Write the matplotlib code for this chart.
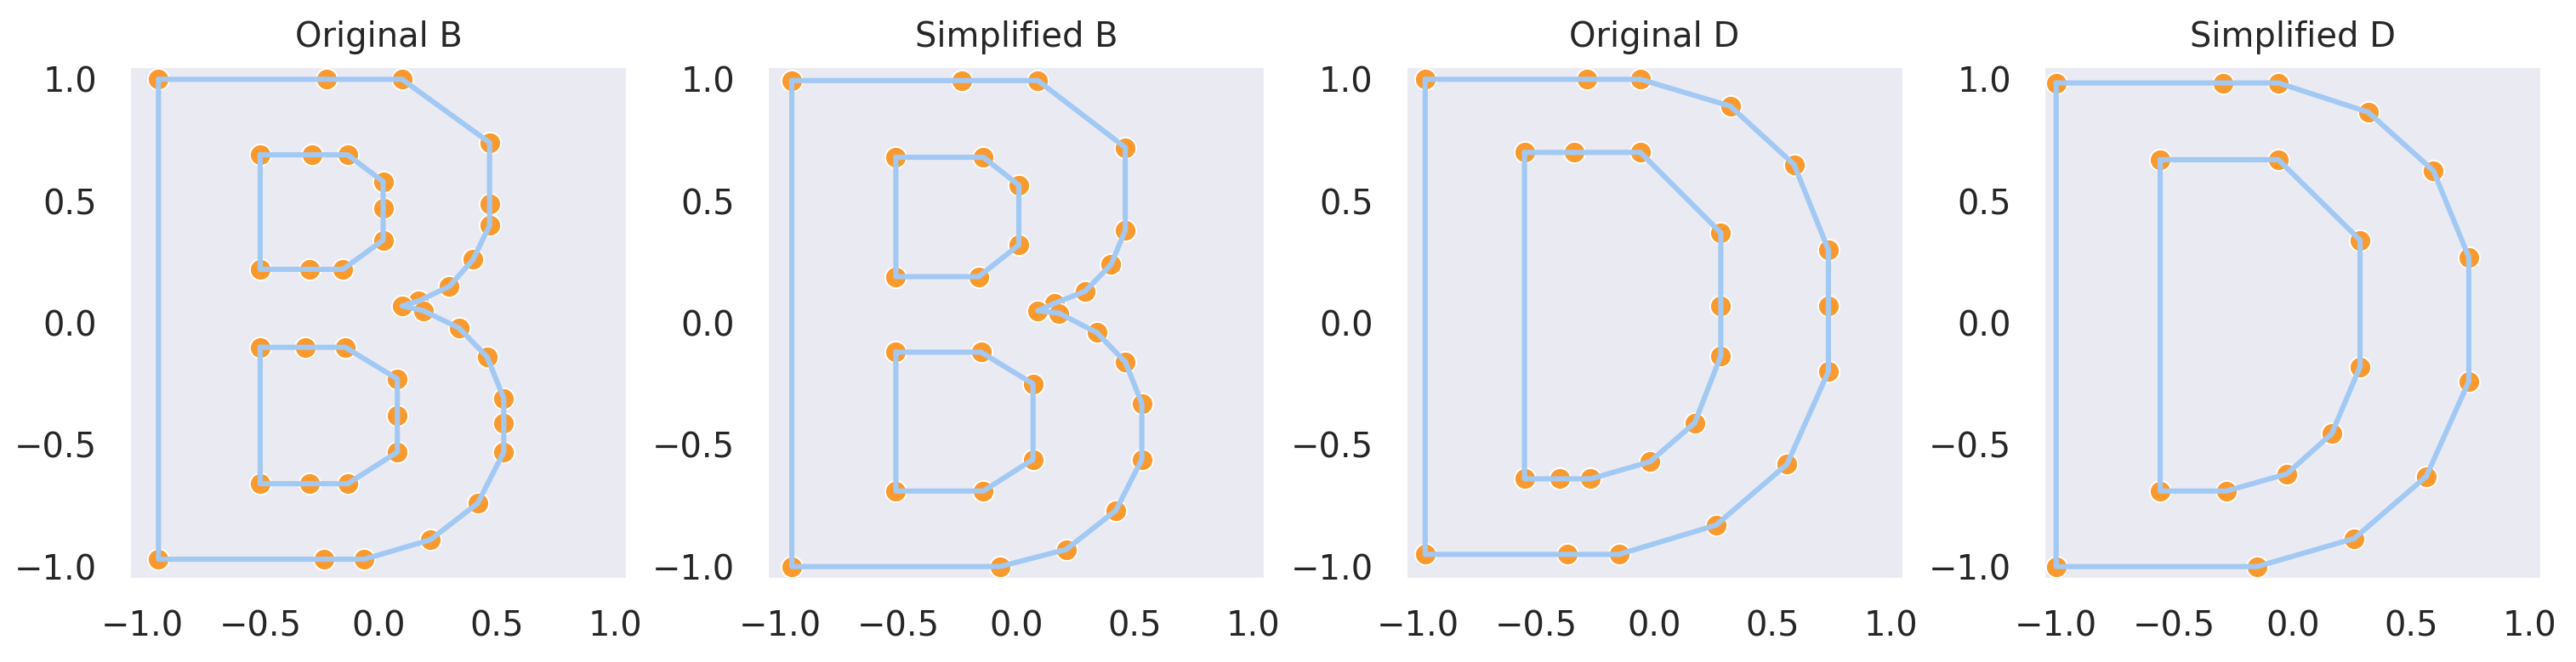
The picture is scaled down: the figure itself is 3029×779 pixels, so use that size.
import matplotlib
matplotlib.use('Agg')
import matplotlib.pyplot as plt
import seaborn as sns

# contour points, (x, y) in data units
orig_b_outer = [(-0.93, 1.00), (-0.22, 1.00), (0.10, 1.00), (0.47, 0.74), (0.47, 0.49),
                (0.47, 0.40), (0.40, 0.26), (0.30, 0.15), (0.17, 0.09), (0.10, 0.07),
                (0.19, 0.05), (0.34, -0.02), (0.46, -0.14), (0.53, -0.31), (0.53, -0.41),
                (0.53, -0.53), (0.42, -0.74), (0.22, -0.89), (-0.06, -0.97), (-0.23, -0.97),
                (-0.93, -0.97)]
orig_b_upper = [(-0.50, 0.69), (-0.28, 0.69), (-0.13, 0.69), (0.02, 0.58), (0.02, 0.47),
                (0.02, 0.34), (-0.15, 0.22), (-0.29, 0.22), (-0.50, 0.22)]
orig_b_lower = [(-0.50, -0.10), (-0.31, -0.10), (-0.14, -0.10), (0.08, -0.23), (0.08, -0.38),
                (0.08, -0.53), (-0.13, -0.66), (-0.29, -0.66), (-0.50, -0.66)]

simp_b_outer = [(-0.95, 0.995), (-0.23, 0.995), (0.09, 0.995), (0.46, 0.72), (0.46, 0.38),
                (0.40, 0.24), (0.29, 0.13), (0.16, 0.08), (0.09, 0.05), (0.18, 0.04),
                (0.34, -0.04), (0.46, -0.16), (0.53, -0.33), (0.53, -0.56), (0.42, -0.77),
                (0.21, -0.93), (-0.07, -1.00), (-0.95, -1.00)]
simp_b_upper = [(-0.51, 0.68), (-0.14, 0.68), (0.01, 0.565), (0.01, 0.32), (-0.16, 0.19),
                (-0.51, 0.19)]
simp_b_lower = [(-0.51, -0.12), (-0.15, -0.12), (0.07, -0.25), (0.07, -0.56), (-0.14, -0.69),
                (-0.51, -0.69)]

orig_d_outer = [(-0.97, 1.00), (-0.285, 1.00), (-0.06, 1.00), (0.32, 0.89), (0.59, 0.65),
                (0.735, 0.30), (0.735, 0.07), (0.735, -0.20), (0.56, -0.58), (0.26, -0.83),
                (-0.15, -0.95), (-0.37, -0.95), (-0.97, -0.95)]
orig_d_inner = [(-0.55, 0.70), (-0.34, 0.70), (-0.06, 0.70), (0.28, 0.37), (0.28, 0.07),
                (0.28, -0.135), (0.17, -0.41), (-0.02, -0.57), (-0.27, -0.64), (-0.40, -0.64),
                (-0.55, -0.64)]

simp_d_outer = [(-1.00, 0.985), (-0.295, 0.985), (-0.06, 0.985), (0.32, 0.865), (0.595, 0.625),
                (0.745, 0.27), (0.745, -0.24), (0.565, -0.63), (0.26, -0.885), (-0.15, -1.00),
                (-1.00, -1.00)]
simp_d_inner = [(-0.56, 0.67), (-0.06, 0.67), (0.285, 0.34), (0.285, -0.18), (0.165, -0.455),
                (-0.025, -0.62), (-0.28, -0.69), (-0.56, -0.69)]

titles = ['Original B', 'Simplified B', 'Original D', 'Simplified D']
shapes = [[orig_b_outer, orig_b_upper, orig_b_lower],
          [simp_b_outer, simp_b_upper, simp_b_lower],
          [orig_d_outer, orig_d_inner],
          [simp_d_outer, simp_d_inner]]
ticks = [-1.0, -0.5, 0.0, 0.5, 1.0]

LINE_COLOR = '#a1c9f4'
DOT_COLOR = '#fa9a2e'

sns.set_style('dark')
plt.rcParams['font.family'] = ['DejaVu Sans']

fig = plt.figure(figsize=(3029 / 200, 779 / 200), dpi=200)

for i in range(len(titles)):
    ax = fig.add_axes([0.0505 + i * 0.2477, 0.1258, 0.1928, 0.7728])
    xs = [p[0] for c in shapes[i] for p in c]
    ys = [p[1] for c in shapes[i] for p in c]
    ax.scatter(xs, ys, s=82, color=DOT_COLOR, edgecolor='white', linewidth=0.7, zorder=2)
    for c in shapes[i]:
        cx = [p[0] for p in c] + [c[0][0]]
        cy = [p[1] for p in c] + [c[0][1]]
        ax.plot(cx, cy, color=LINE_COLOR, lw=2.2, zorder=3)
    ax.set_xlim(-1.05, 1.05)
    ax.set_ylim(-1.05, 1.05)
    ax.set_xticks(ticks)
    ax.set_yticks(ticks)
    ax.tick_params(labelsize=14.4, length=0, colors='.15')
    ax.tick_params(axis='x', pad=13)
    ax.tick_params(axis='y', pad=14)
    ax.set_title(titles[i], fontsize=14.4, pad=8.5, color='.15')

fig.savefig('out.png', dpi=200)
